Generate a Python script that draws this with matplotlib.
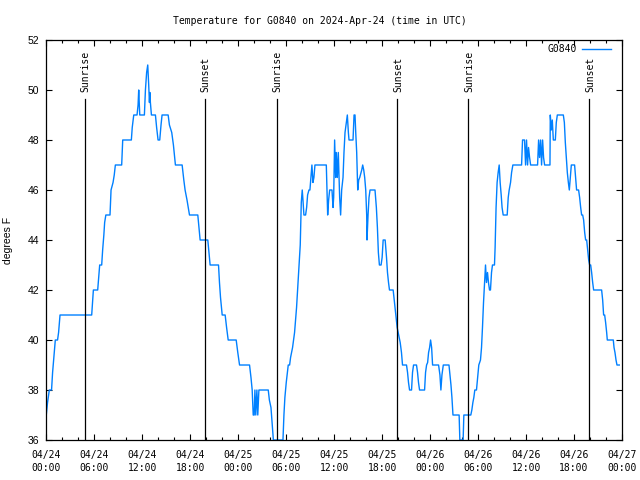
import matplotlib
matplotlib.use('Agg')
import matplotlib.pyplot as plt
from matplotlib.ticker import MultipleLocator

# hours since 2024-04-24 00:00 UTC and temperature (degrees F)
hours = [0.00, 0.16, 0.38, 0.66, 0.79, 0.92, 1.04, 1.13, 1.41, 1.54, 1.72, 5.68, 5.89, 6.43, 6.55, 6.68,
         6.93, 7.05, 7.20, 7.30, 7.45, 7.97, 8.10, 8.35, 8.50, 8.64, 9.43, 9.56, 10.64, 10.75, 10.94,
         11.35, 11.48, 11.56, 11.69, 12.27, 12.40, 12.55, 12.69, 12.81, 12.90, 12.96, 13.02, 13.15,
         13.65, 13.80, 13.98, 14.19, 14.35, 14.48, 15.24, 15.40, 15.69, 15.90, 16.15, 16.99, 17.20,
         17.36, 17.60, 17.91, 18.95, 19.10, 19.24, 20.20, 20.35, 20.49, 21.54, 21.66, 21.79, 21.91,
         22.00, 22.37, 22.55, 22.75, 23.75, 23.95, 24.17, 25.42, 25.60, 25.75, 25.88, 26.00, 26.09,
         26.20, 26.34, 26.45, 26.59, 27.76, 27.90, 28.10, 28.22, 28.40, 29.60, 29.72, 29.84, 30.01,
         30.26, 30.43, 30.55, 30.80, 31.05, 31.30, 31.56, 31.76, 31.89, 32.01, 32.10, 32.22, 32.43,
         32.56, 32.68, 32.85, 32.97, 33.10, 33.22, 33.35, 33.47, 33.60, 35.02, 35.19, 35.31, 35.44,
         35.73, 35.86, 35.94, 36.06, 36.19, 36.27, 36.40, 36.52, 36.69, 36.81, 36.94, 37.11, 37.23,
         37.36, 37.53, 37.65, 37.78, 37.86, 38.36, 38.49, 38.61, 38.70, 38.82, 38.95, 39.07, 39.20,
         39.45, 39.57, 39.70, 39.82, 39.95, 40.07, 40.11, 40.24, 40.36, 40.49, 41.11, 41.28, 41.41,
         41.53, 41.66, 41.87, 42.00, 42.13, 42.38, 42.55, 42.67, 42.80, 42.92, 43.38, 43.51, 43.63,
         43.76, 43.88, 44.01, 44.13, 44.26, 44.42, 44.55, 45.05, 45.18, 45.30, 45.43, 45.68, 45.80,
         45.93, 46.30, 46.43, 46.55, 46.68, 47.31, 47.43, 47.56, 47.69, 47.81, 47.94, 48.06, 48.19,
         48.31, 49.06, 49.23, 49.35, 49.48, 49.65, 50.36, 50.48, 50.61, 50.73, 50.86, 51.63, 51.72,
         52.13, 52.22, 53.09, 53.22, 53.35, 53.47, 53.59, 53.80, 53.95, 54.09, 54.30, 54.43, 54.55,
         54.68, 54.80, 54.93, 55.05, 55.18, 55.30, 55.43, 55.55, 55.68, 55.80, 56.05, 56.13, 56.25,
         56.38, 56.51, 56.64, 56.76, 56.89, 57.00, 57.14, 57.64, 57.77, 57.89, 58.06, 58.19, 58.35,
         59.44, 59.56, 59.81, 59.94, 60.06, 60.19, 60.31, 60.44, 60.57, 61.44, 61.57, 61.69, 61.82,
         61.94, 62.07, 62.19, 62.32, 62.99, 63.03, 63.16, 63.28, 63.41, 63.66, 63.78, 63.91, 64.66,
         64.79, 64.91, 65.04, 65.16, 65.29, 65.41, 65.54, 65.66, 66.07, 66.20, 66.32, 66.57, 66.70,
         66.83, 66.95, 67.08, 67.20, 67.33, 67.45, 67.58, 67.70, 67.83, 67.95, 68.08, 68.20, 68.33,
         68.45, 69.45, 69.58, 69.70, 69.83, 69.95, 70.08, 70.16, 70.91, 71.00, 71.12, 71.25, 71.37,
         71.66]
temps = [37, 37.5, 38, 38, 38.7, 39.2, 39.7, 40, 40, 40.3, 41, 41, 42, 42, 42.5, 43,
         43, 43.6, 44.2, 44.7, 45, 45, 46, 46.3, 46.6, 47, 47, 48, 48, 48.5, 49,
         49, 49.4, 50, 49, 49, 50, 50.7, 51, 50.2, 49.5, 49.9, 49.5, 49,
         49, 48.5, 48, 48, 48.6, 49, 49, 48.6, 48.3, 47.8, 47, 47, 46.4,
         46, 45.6, 45, 45, 44.5, 44, 44, 43.5, 43, 43, 42.3, 41.7, 41.3,
         41, 41, 40.5, 40, 40, 39.5, 39, 39, 38.5, 38, 37, 37, 38,
         37, 38, 37, 38, 38, 37.6, 37.3, 36.8, 36, 36, 37, 37.7, 38.3,
         39, 39, 39.3, 39.7, 40.3, 41.3, 42.7, 43.8, 45.5, 46, 45.6, 45, 45,
         45.3, 45.8, 46, 46, 46.5, 47, 46.3, 46.5, 47, 47, 45, 45.6, 46,
         46, 45.3, 45.7, 48, 46.5, 47.5, 46.5, 47.5, 45.7, 45, 46, 46.5, 47.5,
         48.3, 48.7, 49, 48.3, 48, 48, 49, 49, 48.3, 47.5, 46, 46.4, 46.5,
         46.8, 47, 46.8, 46.5, 46, 45, 44, 45, 45.7, 46, 46, 45.3, 44.5,
         43.5, 43, 43, 43.3, 44, 44, 43.3, 42.7, 42.3, 42, 42, 41.6, 41.2,
         40.8, 40.5, 40.3, 40.1, 39.9, 39.5, 39, 39, 38.7, 38.3, 38, 38, 38.7,
         39, 39, 38.7, 38.3, 38, 38, 38.7, 39, 39.1, 39.5, 39.7, 40, 39.7,
         39, 39, 38.6, 38, 38.6, 39, 39, 38.6, 38.2, 37.7, 37, 37, 36,
         36, 37, 37, 37.2, 37.5, 37.7, 38, 38, 38.5, 39, 39.2, 39.7, 40.5,
         41.5, 42.2, 43, 42.3, 42.7, 42.3, 42, 42, 42.7, 43, 43, 43.7, 45.3,
         46.3, 46.7, 47, 46.3, 45.8, 45.3, 45, 45, 45.7, 46, 46.3, 46.7, 47,
         47, 48, 48, 47, 48, 47, 47.7, 47.3, 47, 47, 48, 47.3, 48,
         47, 48, 47.3, 47, 47, 49, 48.4, 48.8, 48, 48, 48.7, 49, 49,
         48.7, 47.9, 47.3, 46.7, 46.3, 46, 46.5, 47, 47, 46.5, 46, 46, 45.7,
         45.3, 45, 45, 44.8, 44.3, 44, 44, 43.6, 43.2, 43, 43, 42.7, 42.3,
         42, 42, 41.6, 41, 41, 40.7, 40.3, 40, 40, 39.7, 39.5, 39.2, 39,
         39]

sun_hours = [4.80, 19.82, 28.84, 43.87, 52.76, 67.91]
sun_labels = ['Sunrise', 'Sunset', 'Sunrise', 'Sunset', 'Sunrise', 'Sunset']

xtick_hours = [0, 6, 12, 18, 24, 30, 36, 42, 48, 54, 60, 66, 72]
xtick_labels = ['04/24\n00:00', '04/24\n06:00', '04/24\n12:00', '04/24\n18:00',
                '04/25\n00:00', '04/25\n06:00', '04/25\n12:00', '04/25\n18:00',
                '04/26\n00:00', '04/26\n06:00', '04/26\n12:00', '04/26\n18:00',
                '04/27\n00:00']
ytick_values = [36, 38, 40, 42, 44, 46, 48, 50, 52]

mono = 'DejaVu Sans Mono'
sans = 'Liberation Sans'

fig = plt.figure(figsize=(6.4, 4.8), dpi=100)
ax = fig.add_axes([0.0723, 0.0833, 0.8996, 0.8334])

ax.plot(hours, temps, color='#0080ff', lw=1.0, label='G0840')

# sunrise / sunset markers
for h, lab in zip(sun_hours, sun_labels):
    ax.plot([h, h], [36, 49.64], color='black', lw=0.9)
    ax.text(h + 0.1, 49.9, lab, rotation=90, ha='center', va='bottom',
            family=mono, fontsize=7)

ax.set_xlim(0, 72)
ax.set_ylim(36, 52)
ax.set_xticks(xtick_hours)
ax.set_xticklabels(xtick_labels, family=mono, fontsize=7, linespacing=1.35)
ax.xaxis.set_minor_locator(MultipleLocator(2))
ax.set_yticks(ytick_values)
ax.set_yticklabels([str(v) for v in ytick_values], family=sans, fontsize=7.5)

ax.tick_params(which='both', direction='in', top=True, right=True, width=0.8)
ax.tick_params(which='major', length=4)
ax.tick_params(which='minor', length=2.5)
ax.tick_params(axis='x', pad=7)
ax.tick_params(axis='y', pad=5)
for s in ax.spines.values():
    s.set_linewidth(0.9)

ax.set_ylabel('degrees F', family=sans, fontsize=7.5)
ax.yaxis.set_label_coords(-0.058, 0.5)
fig.text(0.5, 0.956, 'Temperature for G0840 on 2024-Apr-24 (time in UTC)',
         ha='center', va='center', family=mono, fontsize=7)

ax.legend(loc='upper right', bbox_to_anchor=(0.98, 0.99), frameon=False,
          markerfirst=False, handlelength=2.9, handletextpad=0.6,
          borderaxespad=0, borderpad=0, prop={'family': mono, 'size': 7})

fig.savefig('out.png', dpi=100)
